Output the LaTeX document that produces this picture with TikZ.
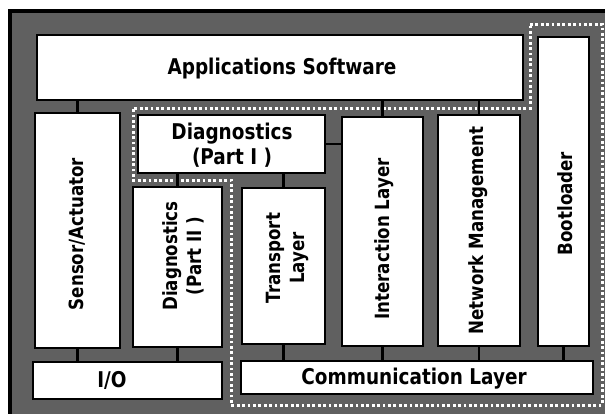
\documentclass[tikz,border=0pt]{standalone}
\usepackage{fontspec}
\newfontfamily\lbl{DejaVu Sans}[FakeStretch=0.85]
\definecolor{frame}{HTML}{606060}
\tikzset{
  box/.style={draw=black, fill=white, line width=1.4pt, inner sep=0pt},
  link/.style={draw=black, line width=2.4pt},
  htext/.style={font=\lbl\bfseries\fontsize{21.7}{25}\selectfont, align=center, inner sep=0pt},
  vtext/.style={font=\lbl\bfseries\fontsize{19.6}{24}\selectfont, align=center, inner sep=0pt, rotate=90},
  dotline/.style={draw=white, line width=3pt, dash pattern=on 2.8pt off 2.6pt}
}
\begin{document}
\begin{tikzpicture}[x=1pt, y=-1pt]
  \useasboundingbox (0,0) rectangle (605,413);
  \clip (0,0) rectangle (605,413);
  % background panel
  \draw[line width=4pt, fill=frame] (10,11) rectangle (650,450);
  % dotted outline of the communication stack
  \draw[dotline] (530,24) -- (602,24) -- (602,405) -- (231,405) -- (231,180)
        -- (133,180) -- (133,108) -- (530,108) -- cycle;
  % module boxes
  \node[box, minimum width=486pt, minimum height=65pt]  (app)   at (280,67.5) {};
  \node[box, minimum width=51pt,  minimum height=309pt] (boot)  at (563.5,191.5) {};
  \node[box, minimum width=85pt,  minimum height=235pt] (sens)  at (77.5,230.5) {};
  \node[box, minimum width=187pt, minimum height=58pt]  (diag1) at (231.5,144) {};
  \node[box, minimum width=89pt,  minimum height=160pt] (diag2) at (177.5,267) {};
  \node[box, minimum width=83pt,  minimum height=156pt] (trans) at (283.5,266) {};
  \node[box, minimum width=81pt,  minimum height=229pt] (inter) at (382.5,231.5) {};
  \node[box, minimum width=82pt,  minimum height=231pt] (netm)  at (479,230.5) {};
  \node[box, minimum width=189pt, minimum height=37pt]  (io)    at (127.5,380.5) {};
  \node[box, minimum width=352pt, minimum height=33pt]  (comm)  at (417,377.5) {};
  % labels
  \node[htext] (appT)   at (282,69)    {Applications Software};
  \node[htext] (diag1T) at (232,145)   {Diagnostics\\(Part I )};
  \node[htext] (ioT)    at (112,380)   {I/O};
  \node[htext] (commT)  at (414,379)   {Communication Layer};
  \node[vtext] (sensT)  at (77,234)    {Sensor/Actuator};
  \node[vtext] (diag2T) at (183,256)   {Diagnostics\\(Part II )};
  \node[vtext] (transT) at (287,258)   {Transport\\Layer};
  \node[vtext] (interT) at (384,239)   {Interaction Layer};
  \node[vtext] (netmT)  at (478.5,230.5) {Network Management};
  \node[vtext] (bootT)  at (565,203.5) {Bootloader};
  % connections
  \draw[link] (sens.north)  -- (sens.north |- app.south);
  \draw[link] (inter.north) -- (inter.north |- app.south);
  \draw[link] (netm.north)  -- (netm.north |- app.south);
  \draw[link] (diag2.north) -- (diag2.north |- diag1.south);
  \draw[link] (trans.north) -- (trans.north |- diag1.south);
  \draw[link] (diag1.east)  -- (diag1.east -| inter.west);
  \draw[link] (sens.south)  -- (sens.south |- io.north);
  \draw[link] (diag2.south) -- (diag2.south |- io.north);
  \draw[link] (trans.south) -- (trans.south |- comm.north);
  \draw[link] (inter.south) -- (inter.south |- comm.north);
  \draw[link] (netm.south)  -- (netm.south |- comm.north);
  \draw[link] (boot.south)  -- (boot.south |- comm.north);
\end{tikzpicture}
\end{document}
